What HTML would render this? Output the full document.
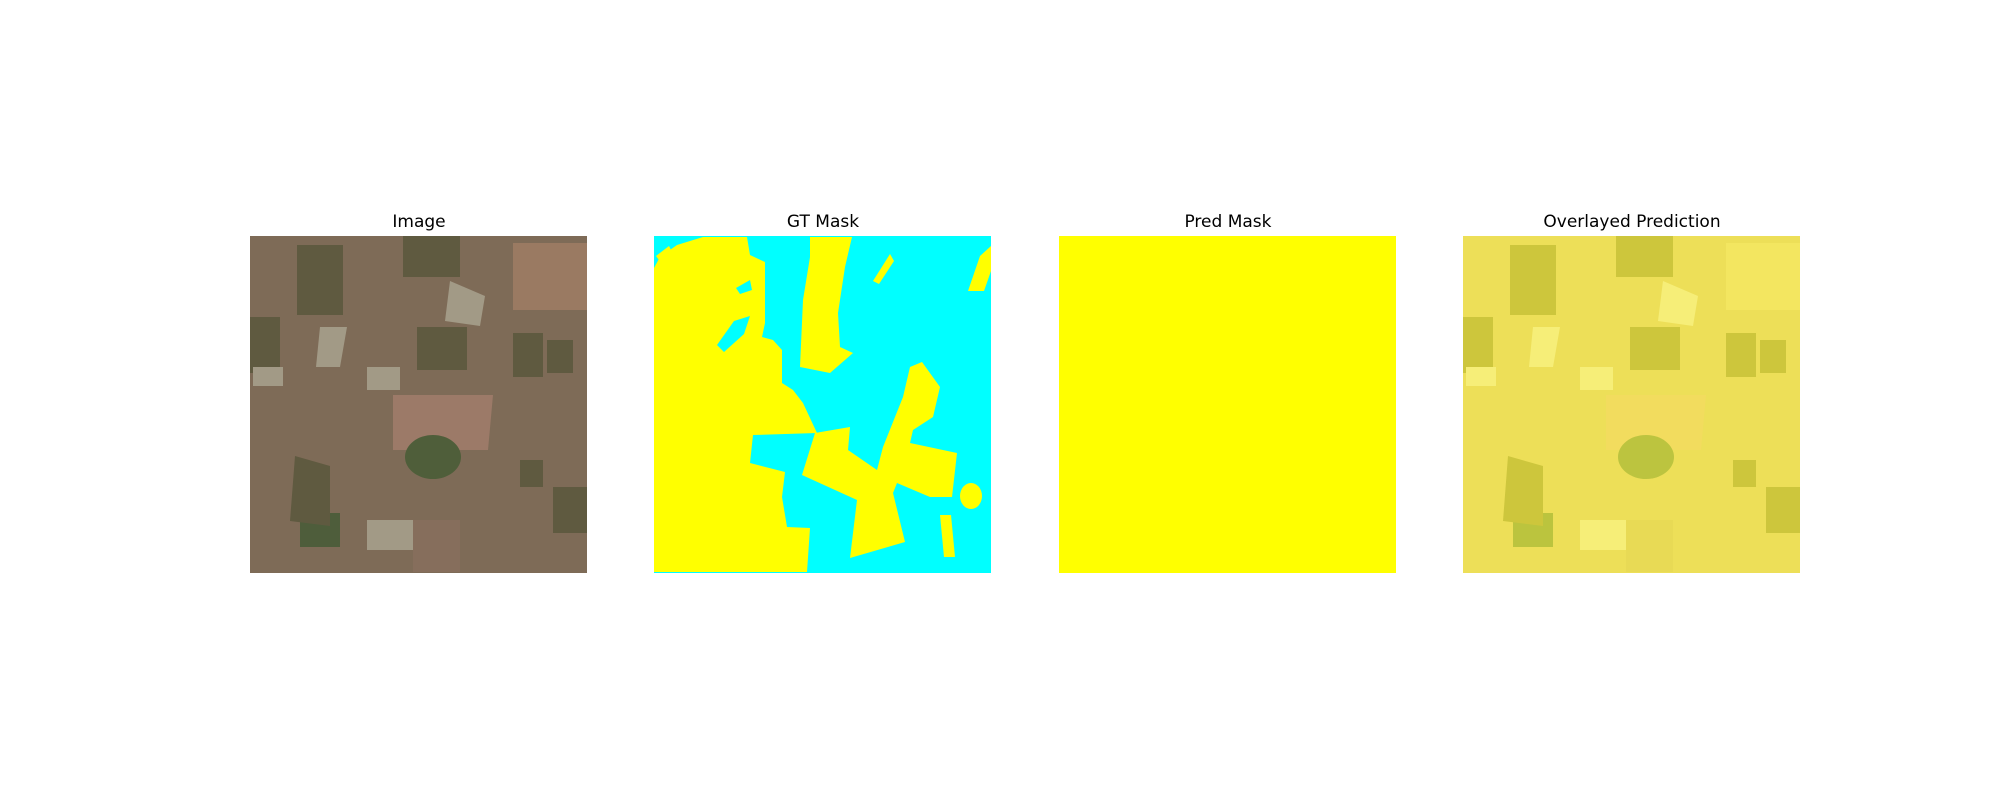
<!DOCTYPE html>
<html><head><meta charset="utf-8"><style>
html,body{margin:0;padding:0;background:#fff;width:2000px;height:800px;overflow:hidden}
svg text{font-family:"DejaVu Sans","Liberation Sans",sans-serif;font-size:17px;fill:#000}
</style></head><body>
<svg id="fig" width="2000" height="800" viewBox="0 0 2000 800" xmlns="http://www.w3.org/2000/svg">
<g id="p1" transform="translate(250,236)"></g>
<g id="p2" transform="translate(654,236)"></g>
<g id="p3" transform="translate(1059,236)"></g>
<g id="p4" transform="translate(1463,236)"></g>
<text x="419" y="227" text-anchor="middle">Image</text>
<text x="823" y="227" text-anchor="middle">GT Mask</text>
<text x="1228" y="227" text-anchor="middle">Pred Mask</text>
<text x="1632" y="227" text-anchor="middle">Overlayed Prediction</text>
</svg>
<script>
const NS='http://www.w3.org/2000/svg';
const S=337;
// field patches: [kind, polygon points]
const patchKinds=['dark','dark','lightbrown','dark','dark','pink','light','light','light','light','dark','dark','dark','dark','green','brown','dark','light'];
const patchPts=[
'47,9 93,9 93,79 47,79','153,0 210,0 210,41 153,41','263,7 337,7 337,74 263,74','0,81 30,81 30,137 0,137',
'167,91 217,91 217,134 167,134','143,159 243,159 238,214 143,214','70,91 97,91 90,131 66,131','117,131 150,131 150,154 117,154',
'3,131 33,131 33,150 3,150','117,284 170,284 170,314 117,314','263,97 293,97 293,141 263,141','297,104 323,104 323,137 297,137',
'270,224 293,224 293,251 270,251','303,251 337,251 337,297 303,297','50,277 90,277 90,311 50,311','163,284 210,284 210,336 163,336',
'45,220 80,230 80,290 40,285','200,45 235,60 230,90 195,85'];
const imgCol={dark:'#5f5a40',lightbrown:'#9a7a62',light:'#a29a86',pink:'#9c7a68',green:'#4e5d3b',brown:'#866e5c'};
const ovCol={dark:'#cdc63c',lightbrown:'#f3e660',light:'#f6ee78',pink:'#f2dc5e',green:'#bbc43e',brown:'#e8da55'};
// GT mask yellow regions
const gtYellow=[
'0,32 6,21 23,9 49,1 93,1 96,19 111,26 111,87 108,101 119,104 128,114 128,147 139,154 149,167 163,197 99,199 96,227 131,236 128,261 133,291 156,292 153,336 0,336',
'156,1 198,1 191,31 184,77 186,111 199,117 176,137 146,131 149,64 156,21',
'161,197 196,191 194,214 223,234 229,211 249,161 256,131 268,126 286,151 279,181 259,194 256,207 303,217 298,261 276,261 243,247 239,257 251,306 196,322 203,264 148,239',
'286,279 297,279 301,321 290,321','337,10 326,20 314,55 330,55 337,35','219,45 236,18 240,25 225,48','2,20 15,10 18,16 5,24'];
const gtCyanHoles=['63,109 80,85 96,80 90,98 70,116','82,52 96,44 98,54 86,58'];
const gtBlobs=[[317,260,11,13]];
function add(p,tag,attrs,name){const e=document.createElementNS(NS,tag);for(const k in attrs)e.setAttribute(k,attrs[k]);


p.appendChild(e);return e;}
const p1=document.getElementById('p1'),p2=document.getElementById('p2'),p3=document.getElementById('p3'),p4=document.getElementById('p4');
add(p1,'rect',{x:0,y:0,width:S,height:S,fill:'#7e6b57'},'image-background');
add(p4,'rect',{x:0,y:0,width:S,height:S,fill:'#eddf58'},'overlay-background');
patchKinds.forEach((k,i)=>{
 add(p1,'polygon',{points:patchPts[i],fill:imgCol[k]},'image-field');
 add(p4,'polygon',{points:patchPts[i],fill:ovCol[k]},'overlay-field');
});
add(p1,'ellipse',{cx:183,cy:221,rx:28,ry:22,fill:'#4f5e3a'},'image-green-circle');
add(p4,'ellipse',{cx:183,cy:221,rx:28,ry:22,fill:'#bcc43f'},'overlay-green-circle');
add(p2,'rect',{x:0,y:0,width:S,height:S,fill:'#00ffff'},'gt-background');
gtYellow.forEach(pt=>add(p2,'polygon',{points:pt,fill:'#ffff00'},'gt-foreground-region'));
gtCyanHoles.forEach(pt=>add(p2,'polygon',{points:pt,fill:'#00ffff'},'gt-background-hole'));
gtBlobs.forEach(b=>add(p2,'ellipse',{cx:b[0],cy:b[1],rx:b[2],ry:b[3],fill:'#ffff00'},'gt-foreground-blob'));
add(p3,'rect',{x:0,y:0,width:S,height:S,fill:'#ffff00'},'pred-mask-fill');
</script>
</body></html>
